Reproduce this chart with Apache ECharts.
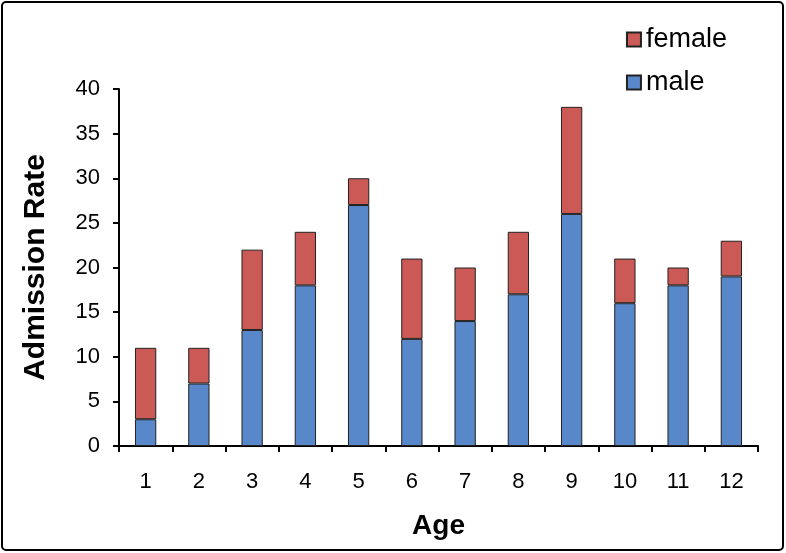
<!DOCTYPE html>
<html><head><meta charset="utf-8">
<script src="https://cdn.jsdelivr.net/npm/echarts@6/dist/echarts.min.js"></script>
<style>html,body{margin:0;padding:0;background:#fff}#c{width:786px;height:553px}</style>
</head><body><div id="c"></div>
<script>
var categories = ['1','2','3','4','5','6','7','8','9','10','11','12'];
var male = [3,7,13,18,27,12,14,17,26,16,18,19];
var female = [8,4,9,6,3,9,6,7,12,5,2,4];
var chart = echarts.init(document.getElementById('c'));
var font = 'Liberation Sans, Arial, sans-serif';
chart.setOption({
  animation:false,
  textStyle:{fontFamily:font},
  graphic:[{type:'rect',shape:{x:2,y:2,width:781,height:548,r:4},style:{fill:'none',stroke:'#000',lineWidth:2},z:-1}],
  legend:{orient:'vertical',right:54,top:21,itemWidth:14,itemHeight:14,itemGap:16,
    data:['female','male'],textStyle:{fontSize:27,lineHeight:27,color:'#000',fontFamily:font},
    icon:'rect'},
  grid:{left:119,right:28,top:89,bottom:107},
  xAxis:{type:'category',data:categories,name:'Age',nameLocation:'middle',nameGap:66,
    nameTextStyle:{fontSize:28,fontWeight:'bold',color:'#000',fontFamily:font},
    axisLine:{lineStyle:{color:'#000',width:2}},
    axisTick:{show:true,length:6,lineStyle:{color:'#000',width:2},alignWithLabel:false},
    axisLabel:{fontSize:22,color:'#000',margin:25,fontFamily:font}},
  yAxis:{type:'value',min:0,max:40,interval:5,name:'Admission Rate',nameLocation:'middle',nameGap:68,
    nameTextStyle:{fontSize:30,fontWeight:'bold',color:'#000',fontFamily:font},
    axisLine:{show:true,lineStyle:{color:'#000',width:2}},
    axisTick:{show:true,length:6,lineStyle:{color:'#000',width:2}},
    splitLine:{show:false},
    axisLabel:{fontSize:22,color:'#000',margin:19,fontFamily:font}},
  series:[
    {name:'male',type:'bar',stack:'s',data:male,barWidth:'40%',
      itemStyle:{color:'#5888C9',borderColor:'#222',borderWidth:1}},
    {name:'female',type:'bar',stack:'s',data:female,barWidth:'40%',
      itemStyle:{color:'#CB5A56',borderColor:'#222',borderWidth:1}}
  ]
});
</script></body></html>
